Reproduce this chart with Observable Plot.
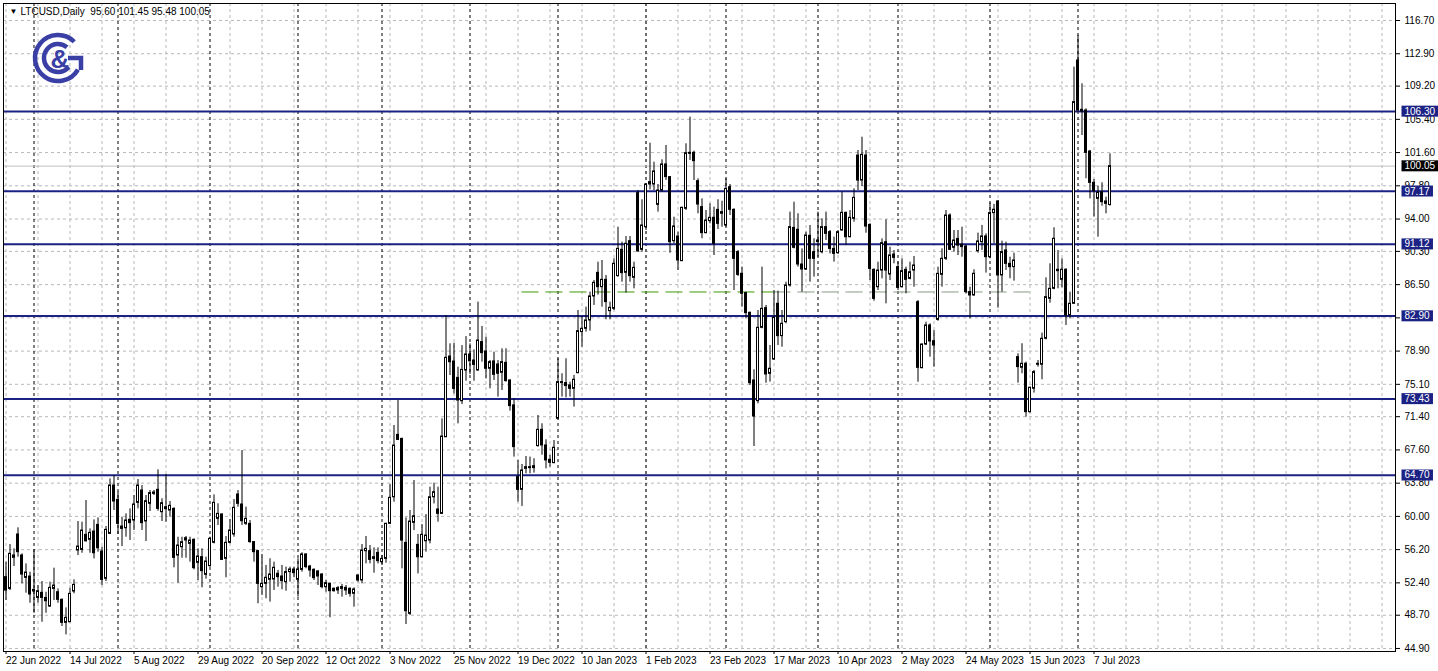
<!DOCTYPE html>
<html><head><meta charset="utf-8">
<script src="https://cdn.jsdelivr.net/npm/d3@7"></script>
<script src="https://cdn.jsdelivr.net/npm/@observablehq/plot@0.6"></script>
<style>
html,body{margin:0;padding:0;background:#fff;}
#chart{width:1438px;height:671px;overflow:hidden;}
</style></head><body><div id="chart"></div>
<script>
// ---- data (LTCUSD daily, weekday bars from 22 Jun 2022) ----
const opens = [53.05,51.71,55.26,57.93,55.53,52.97,53.12,51.41,50.68,51.26,50.68,49.69,51.71,51.33,50.46,47.83,47.90,51.41,56.10,56.17,57.89,57.32,58.27,59.03,55.98,52.86,58.00,63.53,61.89,58.57,
58.65,59.61,59.53,61.55,62.96,59.42,61.44,62.73,63.04,60.48,61.05,60.67,60.86,55.53,56.48,57.24,56.86,57.32,54.69,55.34,53.32,54.31,56.98,59.72,60.22,55.15,56.98,57.93,62.50,61.36,
59.15,59.15,57.06,56.03,51.91,52.29,52.75,52.79,53.44,53.13,52.48,53.63,53.93,52.75,53.89,55.65,54.27,53.89,53.70,53.36,51.91,52.29,51.72,51.53,51.91,51.83,51.72,51.15,53.25,52.67,
56.02,56.02,55.33,55.83,54.76,55.14,59.15,62.19,69.32,68.86,56.97,48.86,59.26,56.75,55.33,57.16,57.24,62.19,60.79,60.29,69.05,78.28,77.71,75.84,73.17,76.68,78.51,77.82,76.68,
79.93,78.86,76.88,77.72,77.37,76.42,77.56,75.54,72.69,64.49,63.04,65.44,65.63,65.52,68.04,69.90,68.11,66.47,66.09,71.16,75.35,75.24,74.97,74.59,76.38,81.07,81.45,82.40,85.15,87.85,
86.21,87.05,83.47,83.73,87.47,90.48,87.85,91.47,87.28,96.96,90.48,93.07,97.95,97.95,95.62,97.26,100.24,98.79,91.47,92.00,89.18,95.17,101.57,101.57,98.33,95.36,92.39,93.76,94.14,95.05,
94.60,93.26,97.64,95.05,90.21,87.74,85.53,83.28,75.54,73.18,81.56,83.81,76.30,77.94,84.31,80.61,82.21,86.40,92.99,92.77,88.80,88.23,92.08,90.21,91.36,90.21,93.07,92.50,90.59,90.10,
92.69,94.71,91.92,94.02,101.26,98.40,101.26,93.33,88.19,86.21,88.11,91.35,87.66,89.94,88.50,86.21,88.19,87.16,88.11,84.49,76.95,79.65,81.83,80.03,82.47,87.62,89.45,94.40,90.71,91.73,
91.06,90.86,85.64,85.26,90.33,91.36,92.01,89.64,94.68,96.01,87.55,90.41,88.88,88.50,78.21,76.99,77.45,71.92,74.59,77.45,77.34,80.31,84.88,86.02,88.20,87.05,88.20,82.98,84.31,112.13,
106.49,106.41,101.72,98.14,96.31,97.07,96.01,95.60];
const highs = [54.76,56.78,56.29,58.69,55.72,54.57,53.62,56.17,52.09,52.55,51.33,52.48,54.08,51.71,50.57,49.54,51.79,52.74,59.41,59.34,61.81,58.57,59.60,59.83,56.48,58.84,64.29,64.67,62.77,59.91,
60.29,60.86,62.39,64.22,63.53,62.39,62.96,62.96,65.32,62.01,64.79,61.70,60.98,57.62,57.62,57.70,57.62,57.43,56.29,56.29,55.34,57.62,62.46,61.44,60.29,57.70,59.64,61.93,62.96,67.53,
61.06,59.53,57.06,56.10,55.65,54.39,55.15,54.77,53.82,54.39,54.20,54.20,54.20,55.15,55.84,55.72,54.39,54.01,53.82,53.44,52.67,52.37,51.83,51.99,52.22,52.10,51.83,51.83,53.25,56.79,
57.70,56.67,56.40,56.40,55.53,59.22,63.61,70.39,73.25,68.94,59.83,60.67,64.10,57.93,59.07,60.21,63.34,63.80,63.34,71.15,82.97,79.73,79.80,77.06,79.53,80.56,79.73,79.04,84.50,
81.72,80.50,77.83,78.78,77.83,79.16,79.16,75.62,73.45,66.40,65.94,66.85,66.78,66.59,71.54,70.59,68.76,66.97,68.68,78.02,76.31,78.02,75.35,76.12,83.55,82.86,83.93,85.64,86.98,89.07,
89.26,87.55,84.50,89.45,93.07,91.36,92.00,92.00,89.07,97.26,96.20,98.03,102.67,100.50,97.95,100.77,102.41,98.86,94.21,92.50,95.36,102.60,105.65,101.76,98.60,96.31,94.98,95.74,95.36,96.20,
96.04,98.60,97.95,95.17,90.40,88.50,85.64,83.35,76.76,83.54,88.50,84.12,79.54,85.83,85.75,83.54,86.78,94.79,95.93,94.60,90.59,92.50,93.26,91.74,94.79,94.02,94.79,92.69,91.93,92.69,
97.07,94.78,94.97,97.45,101.83,103.36,101.83,93.45,88.30,89.07,91.73,93.91,90.78,90.40,89.07,89.45,88.50,89.07,89.71,84.68,79.73,82.21,82.02,81.25,88.50,90.59,94.97,94.59,92.69,92.69,
93.07,90.98,86.21,88.20,92.39,93.27,92.31,95.82,95.67,96.12,91.47,91.36,89.64,90.10,78.59,79.74,77.64,74.78,76.69,77.83,80.96,87.28,88.88,93.00,90.41,89.45,88.31,85.64,111.37,114.99,
109.46,106.60,101.84,98.52,97.76,98.14,96.50,101.45];
const lows = [50.38,51.52,54.27,55.33,52.29,51.22,50.07,48.93,50.07,47.90,48.93,49.62,50.38,50.07,47.41,46.45,47.90,51.14,55.53,55.79,57.05,55.79,55.14,55.91,52.09,52.55,58.00,60.67,57.93,56.55,
57.62,57.24,58.39,60.86,58.39,57.13,60.56,62.39,60.60,59.42,59.34,59.91,54.12,52.37,55.22,55.22,54.77,53.89,52.67,51.83,52.82,54.20,56.86,58.96,54.96,52.98,56.86,57.62,61.05,58.96,
58.96,56.94,54.77,50.01,50.96,50.58,50.20,51.53,51.91,51.61,51.45,52.48,52.98,50.77,53.63,54.01,53.05,52.67,52.10,51.72,51.34,48.41,51.34,51.07,50.77,50.96,50.77,49.62,52.48,52.29,
54.57,54.57,53.51,54.57,54.38,54.65,59.07,61.62,68.67,54.00,47.64,48.67,58.38,53.43,55.26,55.91,56.86,61.43,59.34,60.21,69.05,76.11,74.01,70.58,72.79,75.46,76.22,75.46,76.60,
77.64,75.73,74.59,75.54,73.64,74.40,75.35,72.04,66.78,61.63,61.14,64.87,64.87,64.95,67.92,67.00,65.44,65.63,66.02,71.05,73.64,73.56,73.64,72.50,76.31,79.35,81.07,81.18,84.12,85.30,
83.92,82.48,82.48,83.54,87.36,86.78,85.53,86.78,86.02,90.21,90.21,92.69,97.34,97.26,94.79,97.07,98.41,90.10,91.17,88.12,89.18,94.98,100.69,98.41,94.60,91.74,92.31,93.45,89.83,92.80,
93.07,93.07,94.40,85.83,87.43,83.92,82.59,74.97,67.99,72.87,81.45,75.23,75.35,77.83,79.54,79.35,82.02,86.21,90.59,88.50,85.64,88.12,86.78,87.36,89.64,90.02,91.55,90.02,89.07,89.95,
92.61,90.97,91.85,93.64,97.26,97.72,92.38,86.97,84.61,85.83,87.16,84.30,86.97,88.88,85.83,86.13,85.45,87.05,86.21,75.35,76.87,79.54,78.21,77.06,82.32,86.21,89.26,90.40,90.21,89.83,
89.64,85.45,82.59,85.19,90.10,90.41,87.82,89.45,91.17,83.81,85.64,88.12,87.17,86.90,75.24,76.31,71.35,71.81,74.10,77.07,75.62,80.19,84.38,85.91,86.02,86.14,81.83,82.59,84.23,106.22,
103.55,98.60,96.31,94.22,91.93,95.47,94.60,95.48];
const closes = [51.52,55.72,55.53,55.91,53.35,53.58,51.07,51.60,51.45,50.68,50.30,51.83,52.09,50.46,47.83,48.40,51.14,52.17,56.55,58.38,57.16,58.12,55.79,56.36,52.74,58.46,63.53,61.70,59.15,58.84,
59.53,59.23,61.36,63.53,59.23,61.74,62.66,62.58,60.86,61.51,60.83,61.21,55.26,56.67,57.05,57.51,57.24,54.08,55.41,53.74,54.84,57.43,61.55,60.29,55.03,56.98,58.39,60.98,61.44,59.45,
59.72,57.06,55.91,52.29,52.29,52.98,53.36,54.12,53.05,52.60,53.63,53.93,53.51,53.93,55.65,54.20,53.82,52.94,53.13,51.91,52.37,51.45,51.45,51.80,51.72,51.53,51.15,51.64,52.67,56.10,
56.29,55.03,55.14,54.88,55.14,59.15,62.12,68.10,68.75,57.24,49.16,59.41,60.02,55.33,57.89,57.81,62.19,62.77,60.29,69.13,78.13,77.63,74.58,73.25,76.75,78.51,77.74,77.32,80.11,
78.67,76.88,77.64,76.19,76.31,77.64,75.47,72.61,67.92,63.04,65.25,65.63,65.52,65.75,69.90,68.11,66.40,66.13,67.85,75.35,75.24,74.90,74.59,75.62,81.18,81.45,82.40,85.15,86.71,86.21,
87.05,84.50,83.85,88.88,90.59,87.81,91.17,87.47,88.42,90.29,93.26,97.95,98.22,99.44,97.26,100.24,98.79,91.36,93.15,89.26,95.28,101.53,101.46,100.62,95.66,92.39,93.83,94.14,91.17,93.45,
94.79,97.45,95.05,89.45,87.62,85.45,83.24,75.23,71.42,81.56,83.73,76.23,76.88,82.71,80.61,82.02,86.40,93.07,90.71,88.80,88.23,92.12,89.45,89.45,91.55,93.07,92.31,90.59,90.02,92.50,
94.71,91.92,94.14,96.42,98.40,101.34,93.14,88.30,84.87,88.11,91.24,88.11,89.83,89.56,86.13,88.04,87.05,87.92,88.69,76.99,79.65,81.83,80.00,79.54,87.73,89.45,94.40,90.48,91.54,90.97,
90.79,85.64,85.26,87.74,91.44,92.01,89.64,94.68,95.06,87.55,90.22,88.88,88.50,89.26,77.07,77.45,71.92,74.71,76.50,77.34,80.31,85.07,86.02,91.74,88.04,88.20,82.98,84.31,107.37,106.41,
106.30,101.57,98.14,97.19,97.00,95.93,95.74,100.05];

const firstDay = "2022-06-22";                 // first bar date
const dateLabels = ["22 Jun 2022","14 Jul 2022","5 Aug 2022","29 Aug 2022","20 Sep 2022","12 Oct 2022","3 Nov 2022","25 Nov 2022","19 Dec 2022","10 Jan 2023","1 Feb 2023","23 Feb 2023","17 Mar 2023","10 Apr 2023","2 May 2023","24 May 2023","15 Jun 2023","7 Jul 2023"];
const labelEvery = 16;                          // bars between date labels
const gridEvery = 8;                            // bars between vertical grid lines
const priceTicks = [116.70,112.90,109.20,105.40,101.60,97.80,94.00,90.30,86.50,82.70,78.90,75.10,71.40,67.60,63.80,60.00,56.20,52.40,48.70,44.90];
const levels = [106.30,97.17,91.12,82.90,73.43,64.70];
const lastPrice = 100.05;
const symbolText = "LTCUSD,Daily  95.60 101.45 95.48 100.05";
const trendLevel = 85.66;
const trendGreen = [129, 192];   // bar index span of green dashed segment
const trendGray = [192, 256];    // bar index span of gray dashed continuation

// ---- build table ----
const n = opens.length;
const days = d3.utcDay.range(new Date(firstDay), d3.utcDay.offset(new Date(firstDay), 600))
  .filter(d => d.getUTCDay() !== 0 && d.getUTCDay() !== 6).slice(0, n);
const bars = d3.range(n).map(i => ({i, o: opens[i], h: highs[i], l: lows[i], c: closes[i], up: closes[i] >= opens[i], date: days[i]}));
const monthStarts = bars.filter((b, k) => k > 0 && b.date.getUTCMonth() !== bars[k - 1].date.getUTCMonth()).map(b => b.i);
const xMax = 347.375;
const gridBars = d3.range(0, xMax, gridEvery);
const labelBars = dateLabels.map((d, k) => k * labelEvery);

const NAVY = "#1b2284";
const GRID = "#b8b8b8";
const FONT = "Liberation Sans, Arial, sans-serif";

const chart = Plot.plot({
  width: 1438, height: 671,
  marginLeft: 3, marginRight: 43, marginTop: 3, marginBottom: 20,
  x: {type: "linear", domain: [-0.625, xMax], axis: null},
  y: {type: "linear", domain: [44.553, 118.644], axis: null},
  style: {fontFamily: FONT, fontSize: "10px", background: "#fff", color: "#000"},
  marks: [
    Plot.ruleY(priceTicks, {stroke: GRID, strokeDasharray: "3,3"}),
    Plot.ruleX(gridBars, {stroke: GRID, strokeDasharray: "3,3"}),
    Plot.ruleX(monthStarts, {stroke: "#000", strokeDasharray: "3,3"}),
    Plot.ruleY([lastPrice], {stroke: "#c0c0c0"}),
    Plot.ruleY([trendLevel], {x1: trendGreen[0], x2: trendGreen[1], stroke: "#3f9a00", strokeDasharray: "17,7"}),
    Plot.ruleY([trendLevel], {x1: trendGray[0], x2: trendGray[1], stroke: "#8a9a80", strokeDasharray: "17,7"}),
    Plot.ruleY(levels, {stroke: NAVY, strokeWidth: 2}),
    Plot.ruleX(bars, {x: "i", y1: "l", y2: "h", stroke: "#000", strokeWidth: 1}),
    Plot.rect(bars, {x1: d => d.i - 0.25, x2: d => d.i + 0.25, y1: d => Math.min(d.o, d.c), y2: d => Math.max(d.o, d.c),
      fill: d => d.up ? "#fff" : "#000", stroke: "#000", strokeWidth: 1}),
    Plot.axisY(priceTicks, {anchor: "right", label: null, tickFormat: d => d.toFixed(2), tickSize: 4, tickPadding: 5, fontSize: 10, stroke: "#000"}),
    Plot.axisX(labelBars, {anchor: "bottom", label: null, tickFormat: i => dateLabels[i / labelEvery], tickSize: 3, textAnchor: "start", tickPadding: 2, fontSize: 10, dx: 0}),
    Plot.text([lastPrice], {y: d => d, frameAnchor: "right", dx: 9, textAnchor: "start", text: d => d.toFixed(2), fill: "#fff", fontSize: 10, className: "lbl-black"}),
    Plot.text(levels, {y: d => d, frameAnchor: "right", dx: 9, textAnchor: "start", text: d => d.toFixed(2), fill: "#fff", fontSize: 10, className: "lbl-navy"}),
    Plot.text([symbolText], {frameAnchor: "top-left", dx: 17, dy: 4, textAnchor: "start", fontSize: 10, fill: "#000"}),
    Plot.text(["▼"], {frameAnchor: "top-left", dx: 6, dy: 5, textAnchor: "start", fontSize: 8, fill: "#000"}),
    Plot.frame({stroke: "#000"})
  ]
});
document.getElementById("chart").appendChild(chart);

// label backgrounds (placed behind each label text, same transform)
const svg = d3.select(chart);
function boxes(cls, color) {
  svg.selectAll("g." + cls + " text").each(function() {
    const bb = this.getBBox();
    const r = d3.select(this.parentNode).insert("rect", () => this)
      .attr("x", bb.x - 3).attr("y", bb.y).attr("width", bb.width + 6).attr("height", bb.height)
      .attr("fill", color);
    const t = this.getAttribute("transform");
    if (t) r.attr("transform", t);
  });
}
boxes("lbl-navy", NAVY);
boxes("lbl-black", "#000");

// logo
const LOGO = "#3a3fa6";
const logo = svg.append("g").attr("transform", "translate(58,58)").attr("fill", "none").attr("stroke", LOGO).attr("stroke-width", 4.5);
function arcPath(r, a0, a1) {
  const p = d3.path();
  p.arc(0, 0, r, a0 * Math.PI / 180, a1 * Math.PI / 180, true);
  return p.toString();
}
logo.append("path").attr("d", arcPath(23, -45, 30));
logo.append("path").attr("d", arcPath(14, -50, 40));
logo.append("path").attr("d", "M10,0 H23 V12");
svg.append("text").attr("x", 60).attr("y", 68).attr("text-anchor", "middle").attr("font-family", FONT)
  .attr("font-size", 26).attr("font-weight", "bold").attr("fill", LOGO).text("&");
</script>
</body></html>
